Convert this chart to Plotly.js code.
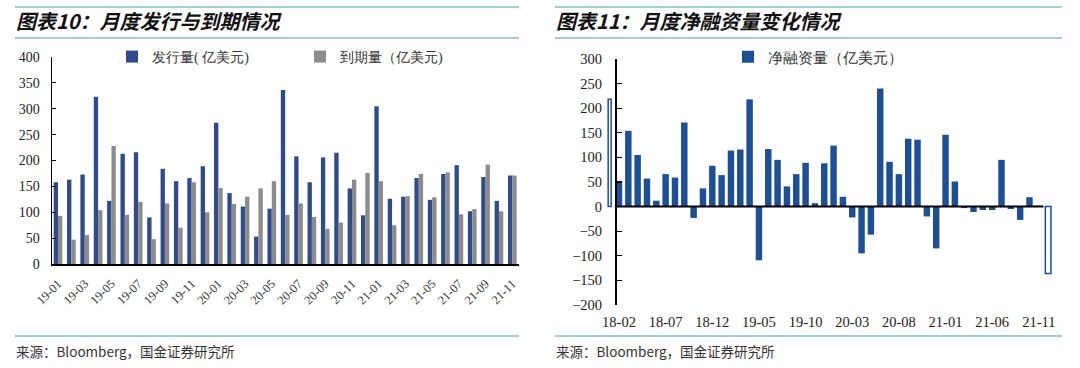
<!DOCTYPE html>
<html>
<head>
<meta charset="utf-8">
<script src="https://cdn.plot.ly/plotly-3.0.1.min.js"></script>
<style>html,body{margin:0;padding:0;background:#fff;}#chart{width:1080px;height:368px;}</style>
</head>
<body>
<div id="chart"></div>
<script>
// ---- Left chart: monthly issuance vs maturity ----
const monthsL = ['19-01','19-02','19-03','19-04','19-05','19-06','19-07','19-08','19-09','19-10','19-11','19-12',
                 '20-01','20-02','20-03','20-04','20-05','20-06','20-07','20-08','20-09','20-10','20-11','20-12',
                 '21-01','21-02','21-03','21-04','21-05','21-06','21-07','21-08','21-09','21-10','21-11'];
const issuance = [158,163,173,323,122,213,216,90,184,160,166,189,
                  273,137,111,53,107,336,208,158,206,215,146,94,
                  305,126,130,166,124,174,191,102,168,122,171];
const maturity = [93,47,56,104,228,95,120,48,117,70,158,100,
                  147,116,130,146,160,95,117,91,68,80,163,176,
                  160,75,131,174,129,177,96,106,192,102,171];
const ticksL = ['19-01','19-03','19-05','19-07','19-09','19-11','20-01','20-03','20-05','20-07','20-09','20-11',
                '21-01','21-03','21-05','21-07','21-09','21-11'];

// ---- Right chart: monthly net financing ----
const monthsR = ['18-01','18-02','18-03','18-04','18-05','18-06','18-07','18-08','18-09','18-10','18-11','18-12',
                 '19-01','19-02','19-03','19-04','19-05','19-06','19-07','19-08','19-09','19-10','19-11','19-12',
                 '20-01','20-02','20-03','20-04','20-05','20-06','20-07','20-08','20-09','20-10','20-11','20-12',
                 '21-01','21-02','21-03','21-04','21-05','21-06','21-07','21-08','21-09','21-10','21-11','21-12'];
const netFinancing = [null,51,154,105,57,12,66,59,171,-23,37,83,
                      64,114,116,218,-109,117,95,41,66,89,7,88,
                      124,20,-22,-95,-57,240,91,66,138,136,-20,-85,
                      146,51,-3,-11,-7,-7,95,-5,-27,19,2,null];
const outlineMonths = ['18-01','21-12'];
const outlineValues = [218,-136];
const ticksR = ['18-02','18-07','18-12','19-05','19-10','20-03','20-08','21-01','21-06','21-11'];

const W = 1080, H = 368;
const px = v => v / W;
const py = v => 1 - v / H;

const serif = 'Liberation Serif';
const cjk = 'Noto Sans CJK SC';
const teal = '#7DBFCC';
const blueL = '#2E4B8C', grayL = '#8C8C8C', blueR = '#1C4F95';

const traces = [
  {type:'bar', name:'发行量( 亿美元)', x: monthsL, y: issuance, xaxis:'x', yaxis:'y',
   marker:{color:blueL}, legend:'legend', hoverinfo:'x+y'},
  {type:'bar', name:'到期量（亿美元)', x: monthsL, y: maturity, xaxis:'x', yaxis:'y',
   marker:{color:grayL}, legend:'legend', hoverinfo:'x+y'},
  {type:'bar', name:'净融资量（亿美元）', x: monthsR, y: netFinancing, xaxis:'x2', yaxis:'y2',
   width:0.69, offset:-0.345, marker:{color:blueR}, legend:'legend2', hoverinfo:'x+y'},
  {type:'bar', name:'outline', x: outlineMonths, y: outlineValues, xaxis:'x2', yaxis:'y2',
   width:[0.32,0.6], offset:[-0.16,-0.3], showlegend:false,
   marker:{color:'rgba(255,255,255,0)', line:{color:blueR, width:1.5}}, hoverinfo:'skip'}
];

const layout = {
  width: W, height: H,
  margin:{l:0,r:0,t:0,b:0},
  paper_bgcolor:'#ffffff', plot_bgcolor:'rgba(0,0,0,0)',
  barmode:'group', bargap:0.35, bargroupgap:0,
  font:{family: serif, color:'#222'},
  xaxis:{
    domain:[px(52), px(519)], anchor:'y', type:'category',
    categoryorder:'array', categoryarray: monthsL,
    range:[-0.45, 34.5], showgrid:false, zeroline:false,
    showline:true, linecolor:'#000', linewidth:1.5, ticks:'',
    tickmode:'array', tickvals: ticksL, ticktext: ticksL, tickangle:-45,
    tickfont:{family: serif, size:12.5, color:'#333'}, ticklabelstandoff:6
  },
  yaxis:{
    domain:[py(264), py(57)], anchor:'x', range:[0,400], dtick:50,
    showgrid:false, zeroline:false, showline:true, linecolor:'#000', linewidth:1.5,
    ticks:'inside', ticklen:4, tickcolor:'#000', tickwidth:1.2,
    tickfont:{family: serif, size:14, color:'#222'}, ticklabelstandoff:8
  },
  xaxis2:{
    domain:[px(600), px(1060)], anchor:'y2', type:'category',
    categoryorder:'array', categoryarray: monthsR,
    range:[-1.036, 48.27], showgrid:false, zeroline:false, showline:false, ticks:'',
    tickmode:'array', tickvals: ticksR, ticktext: ticksR, tickangle:0,
    tickfont:{family: serif, size:14.5, color:'#222'}, ticklabelstandoff:6
  },
  yaxis2:{
    domain:[py(305), py(59)], anchor:'free', position: px(615), range:[-200,300], dtick:50,
    showgrid:false, zeroline:false, showline:true, linecolor:'#000', linewidth:1.5,
    ticks:'inside', ticklen:5, tickcolor:'#000', tickwidth:1.2,
    tickfont:{family: serif, size:14.5, color:'#222'}, ticklabelstandoff:10
  },
  legend:{
    orientation:'h', x: px(112), y: py(57), xanchor:'left', yanchor:'middle',
    bgcolor:'rgba(0,0,0,0)', font:{family: serif, size:14, color:'#333'},
    entrywidth:143, entrywidthmode:'pixels', traceorder:'normal'
  },
  legend2:{
    orientation:'h', x: px(728), y: py(57), xanchor:'left', yanchor:'middle',
    bgcolor:'rgba(0,0,0,0)', font:{family: serif, size:15, color:'#333'}
  },
  shapes:[
    {type:'line', xref:'paper', yref:'paper', x0:px(15), x1:px(519), y0:py(7), y1:py(7), line:{color:teal, width:1.5}},
    {type:'line', xref:'paper', yref:'paper', x0:px(15), x1:px(519), y0:py(38), y1:py(38), line:{color:teal, width:1.5}},
    {type:'line', xref:'paper', yref:'paper', x0:px(15), x1:px(519), y0:py(336), y1:py(336), line:{color:teal, width:1.5}},
    {type:'line', xref:'paper', yref:'paper', x0:px(555), x1:px(1062), y0:py(7), y1:py(7), line:{color:teal, width:1.5}},
    {type:'line', xref:'paper', yref:'paper', x0:px(555), x1:px(1062), y0:py(38), y1:py(38), line:{color:teal, width:1.5}},
    {type:'line', xref:'paper', yref:'paper', x0:px(555), x1:px(1062), y0:py(336), y1:py(336), line:{color:teal, width:1.5}},
    {type:'line', xref:'x2', yref:'y2', x0:0.55, x1:46.5, y0:0, y1:0, line:{color:'#000', width:2}}
  ],
  annotations:[
    {xref:'paper', yref:'paper', x:px(14), y:py(21), xanchor:'left', yanchor:'middle', showarrow:false,
     text:'<b><i>图表10：月度发行与到期情况</i></b>', font:{family: cjk, size:20, color:'#111'}},
    {xref:'paper', yref:'paper', x:px(554), y:py(21), xanchor:'left', yanchor:'middle', showarrow:false,
     text:'<b><i>图表11：月度净融资量变化情况</i></b>', font:{family: cjk, size:20, color:'#111'}},
    {xref:'paper', yref:'paper', x:px(14), y:py(351), xanchor:'left', yanchor:'middle', showarrow:false,
     text:'来源：Bloomberg，国金证券研究所', font:{family: cjk, size:13.5, color:'#333'}},
    {xref:'paper', yref:'paper', x:px(554), y:py(351), xanchor:'left', yanchor:'middle', showarrow:false,
     text:'来源：Bloomberg，国金证券研究所', font:{family: cjk, size:13.5, color:'#333'}}
  ]
};

Plotly.newPlot('chart', traces, layout, {displayModeBar:false, staticPlot:true});
</script>
</body>
</html>
